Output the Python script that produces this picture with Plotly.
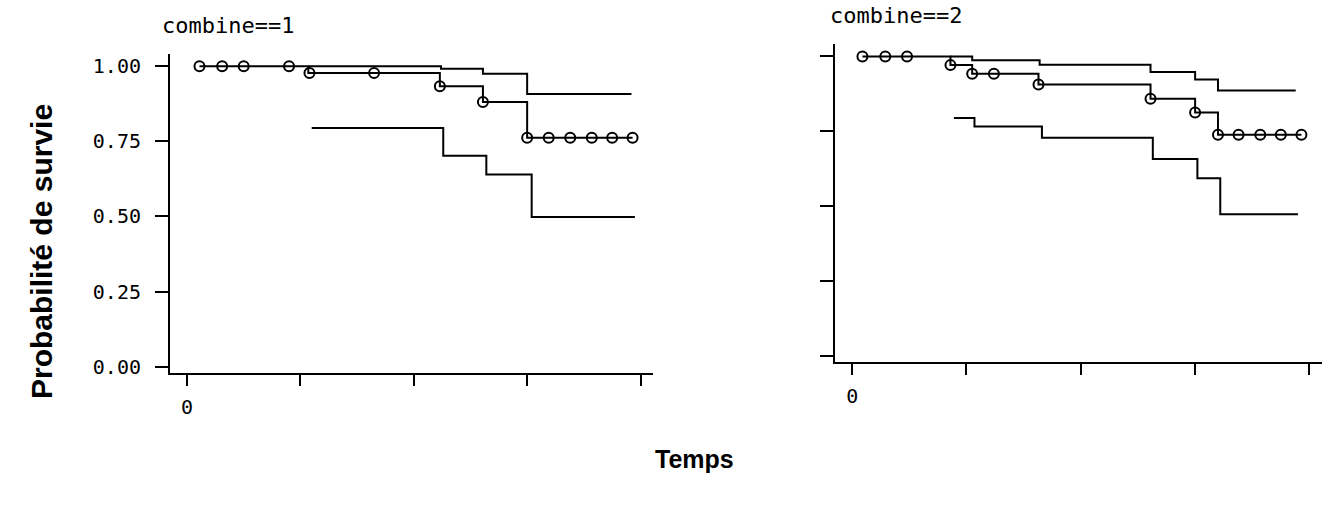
import plotly.graph_objects as go

# ---------------- data ----------------
# Panel combine==1
s1_t = [1.1, 10.7, 22.3, 26.1, 30.0, 39.3]
s1_s = [1.000, 0.978, 0.934, 0.881, 0.762, 0.762]
c1_t = [1.1, 3.1, 5.0, 9.0, 10.8, 16.5, 22.3, 26.1, 30.0, 31.9, 33.8, 35.7, 37.5, 39.3]
c1_s = [1.000, 1.000, 1.000, 1.000, 0.978, 0.978, 0.934, 0.881, 0.762, 0.762, 0.762, 0.762, 0.762, 0.762]
u1_t = [10.7, 22.4, 26.1, 30.0, 39.2]
u1_s = [1.000, 0.992, 0.975, 0.908, 0.908]
l1_t = [11.0, 22.6, 26.4, 30.4, 39.5]
l1_s = [0.795, 0.702, 0.640, 0.498, 0.498]

# Panel combine==2
s2_t = [0.9, 8.6, 10.5, 16.3, 26.1, 30.0, 32.0, 39.3]
s2_s = [1.000, 0.971, 0.942, 0.906, 0.859, 0.813, 0.738, 0.738]
c2_t = [0.9, 2.9, 4.8, 8.6, 10.5, 12.4, 16.3, 26.1, 30.0, 32.0, 33.8, 35.7, 37.5, 39.3]
c2_s = [1.000, 1.000, 1.000, 0.971, 0.942, 0.942, 0.906, 0.859, 0.813, 0.738, 0.738, 0.738, 0.738, 0.738]
u2_t = [8.6, 10.5, 16.4, 26.1, 30.0, 32.0, 38.8]
u2_s = [1.000, 0.987, 0.972, 0.948, 0.923, 0.886, 0.886]
l2_t = [8.9, 10.7, 16.6, 26.3, 30.2, 32.2, 39.0]
l2_s = [0.794, 0.766, 0.728, 0.657, 0.593, 0.473, 0.473]

x_ticks = [0, 10, 20, 30, 40]
x_ticktext = ["0", "", "", "", ""]
y_ticks = [0, 0.25, 0.5, 0.75, 1.0]
y_ticktext = ["0.00", "0.25", "0.50", "0.75", "1.00"]

panel_titles = ["combine==1", "combine==2"]
y_title = "Probabilité de survie"
x_title = "Temps"

# ---------------- figure ----------------
W, H = 1332, 509
fig = go.Figure()
line = dict(color="black", width=2, shape="hv")

def add_panel(xa, ya, st, ss, ct, cs, ut, us, lt, ls):
    fig.add_trace(go.Scatter(x=ut, y=us, mode="lines", line=line, xaxis=xa, yaxis=ya, showlegend=False))
    fig.add_trace(go.Scatter(x=lt, y=ls, mode="lines", line=line, xaxis=xa, yaxis=ya, showlegend=False))
    fig.add_trace(go.Scatter(x=st, y=ss, mode="lines", line=line, xaxis=xa, yaxis=ya, showlegend=False))
    fig.add_trace(go.Scatter(x=ct, y=cs, mode="markers", xaxis=xa, yaxis=ya, showlegend=False,
                             marker=dict(symbol="circle-open", size=10, color="black", line=dict(width=2))))

add_panel("x", "y", s1_t, s1_s, c1_t, c1_s, u1_t, u1_s, l1_t, l1_s)
add_panel("x2", "y2", s2_t, s2_s, c2_t, c2_s, u2_t, u2_s, l2_t, l2_s)

def px_x(p):
    return p / W

def px_y(p):
    return 1 - p / H

tickfont = dict(family="DejaVu Sans Mono", size=20, color="black")
common_x = dict(range=[-1.5, 41.1], tickvals=x_ticks, ticktext=x_ticktext, ticks="outside", ticklen=11,
                tickwidth=2, tickcolor="black", showline=True, linecolor="black", linewidth=2,
                showgrid=False, zeroline=False, tickfont=tickfont, fixedrange=True, ticklabelstandoff=4)
common_y = dict(range=[-0.02, 1.04], tickvals=y_ticks, ticks="outside", ticklen=13, tickwidth=2,
                tickcolor="black", showline=True, linecolor="black", linewidth=2, showgrid=False,
                zeroline=False, tickfont=tickfont, fixedrange=True, ticklabelstandoff=10)

fig.update_layout(
    width=W, height=H,
    margin=dict(l=0, r=0, t=0, b=0),
    paper_bgcolor="white", plot_bgcolor="white",
    xaxis=dict(domain=[px_x(170), px_x(653)], anchor="y", **common_x),
    yaxis=dict(domain=[px_y(377), px_y(55)], anchor="x", ticktext=y_ticktext, **common_y),
    xaxis2=dict(domain=[px_x(835), px_x(1322)], anchor="y2", **common_x),
    yaxis2=dict(domain=[px_y(366), px_y(45)], anchor="x2", showticklabels=False, **common_y),
    annotations=[
        dict(text=panel_titles[0], x=px_x(160), y=px_y(26), xref="paper", yref="paper", xanchor="left",
             yanchor="middle", showarrow=False, font=dict(family="DejaVu Sans Mono", size=22, color="black")),
        dict(text=panel_titles[1], x=px_x(828), y=px_y(16), xref="paper", yref="paper", xanchor="left",
             yanchor="middle", showarrow=False, font=dict(family="DejaVu Sans Mono", size=22, color="black")),
        dict(text="<b>" + y_title + "</b>", x=px_x(42), y=px_y(255), xref="paper", yref="paper",
             textangle=-90, showarrow=False, xanchor="center", yanchor="middle",
             font=dict(family="Liberation Sans", size=30, color="black")),
        dict(text="<b>" + x_title + "</b>", x=px_x(694), y=px_y(464), xref="paper", yref="paper",
             showarrow=False, xanchor="center", yanchor="middle",
             font=dict(family="Liberation Sans", size=25, color="black")),
    ],
)

fig.write_html("out.html")
